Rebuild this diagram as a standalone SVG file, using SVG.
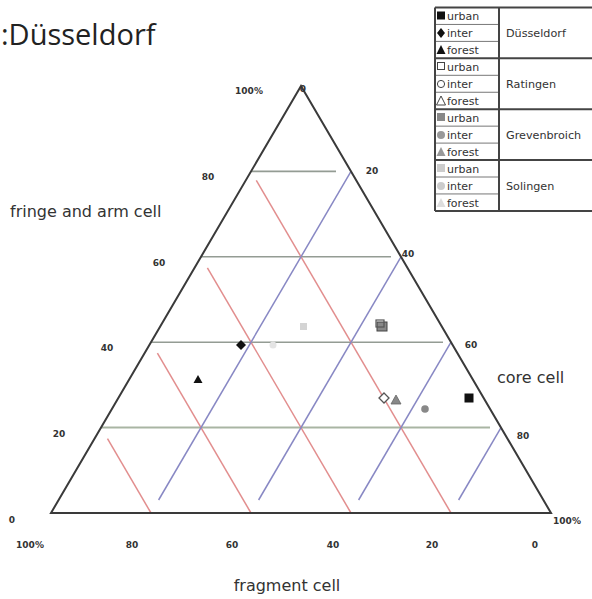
<svg xmlns="http://www.w3.org/2000/svg" width="592" height="599" viewBox="0 0 592 599">
<style>
.edge{fill:none;stroke:#3a3a3a;stroke-width:2}
.hl{stroke:#949c94;stroke-width:1.6}
.rl{stroke:#e28e8e;stroke-width:1.5}
.bl{stroke:#8888c4;stroke-width:1.5}
.tick{font-family:"DejaVu Sans",sans-serif;font-weight:bold;font-size:9px;fill:#333;text-anchor:middle}
.ax{font-family:"DejaVu Sans",sans-serif;font-size:16px;fill:#333}
.lg{font-family:"DejaVu Sans",sans-serif;font-size:11px;fill:#333}
.lgc{font-family:"DejaVu Sans",sans-serif;font-size:11.2px;fill:#333}
.thin{stroke:#777;stroke-width:1}
.thick{stroke:#444;stroke-width:2}
</style>
<rect width="592" height="599" fill="#fff"/>
<text x="1" y="45" font-family="'Open Sans',sans-serif" font-size="29" fill="#222">:Düsseldorf</text>

<g id="grid">
<line class="hl" x1="251" y1="171.4" x2="336" y2="171.4"/>
<line class="hl" x1="201" y1="256.8" x2="391" y2="256.8"/>
<line class="hl" x1="151" y1="342.2" x2="443" y2="342.2"/>
<line class="hl" x1="101" y1="427.6" x2="490" y2="427.6" style="stroke:#a9b5a3;stroke-width:2"/>
<line class="rl" x1="107.5" y1="438.7" x2="151" y2="513"/>
<line class="rl" x1="157.4" y1="353.2" x2="251" y2="513"/>
<line class="rl" x1="207.4" y1="267.8" x2="351" y2="513"/>
<line class="rl" x1="256.3" y1="180.4" x2="451" y2="513"/>
<line class="bl" x1="158.6" y1="500" x2="351" y2="171.4"/>
<line class="bl" x1="258.6" y1="500" x2="401" y2="256.8"/>
<line class="bl" x1="358.6" y1="500" x2="451" y2="342.2"/>
<line class="bl" x1="458.6" y1="500" x2="501" y2="427.6"/>
</g>

<g id="triangle">
<polygon class="edge" points="51,513 551,513 301,86"/>
</g>

<g id="ticks">
<text class="tick" x="249" y="94">100%</text>
<text class="tick" x="208" y="180">80</text>
<text class="tick" x="159" y="266">60</text>
<text class="tick" x="107" y="351">40</text>
<text class="tick" x="59" y="437">20</text>
<text class="tick" x="12" y="523">0</text>
<text class="tick" x="303" y="92">0</text>
<text class="tick" x="372" y="174">20</text>
<text class="tick" x="408" y="257">40</text>
<text class="tick" x="471" y="348">60</text>
<text class="tick" x="523" y="439">80</text>
<text class="tick" x="567" y="524">100%</text>
<text class="tick" x="30" y="548">100%</text>
<text class="tick" x="132" y="548">80</text>
<text class="tick" x="232" y="548">60</text>
<text class="tick" x="333" y="548">40</text>
<text class="tick" x="432" y="548">20</text>
<text class="tick" x="535" y="548">0</text>
</g>

<g id="axis-titles">
<text class="ax" x="10" y="217">fringe and arm cell</text>
<text class="ax" x="497" y="383">core cell</text>
<text class="ax" x="287" y="591" text-anchor="middle">fragment cell</text>
</g>

<g id="points">
<rect x="300" y="323" width="7" height="7" fill="#d4d4d4"/>
<circle cx="273" cy="345" r="3.5" fill="#e4e4e4"/>
<rect x="377" y="322" width="10" height="9" fill="#888" stroke="#444" stroke-width="1"/>
<rect x="376" y="320" width="8" height="7" fill="none" stroke="#555" stroke-width="1.2"/>
<path d="M384,393 L389,398 L384,403 L379,398 Z" fill="#fff" stroke="#555" stroke-width="1.3"/>
<path d="M396,395 L401,404 L391,404 Z" fill="#888" stroke="#666" stroke-width="0.8"/>
<circle cx="425" cy="409" r="3.8" fill="#888"/>
<rect x="464.5" y="393.5" width="9" height="9" fill="#111"/>
<path d="M241,340 L246,345 L241,350 L236,345 Z" fill="#111"/>
<path d="M198,375 L202.5,383 L193.5,383 Z" fill="#111"/>
</g>

<g id="legend">
<rect x="435" y="7.5" width="170" height="203.4" fill="#fff" stroke="none"/>
<line class="thin" x1="435" y1="24.45" x2="499" y2="24.45"/>
<line class="thin" x1="435" y1="41.4" x2="499" y2="41.4"/>
<line class="thin" x1="435" y1="75.3" x2="499" y2="75.3"/>
<line class="thin" x1="435" y1="92.25" x2="499" y2="92.25"/>
<line class="thin" x1="435" y1="126.15" x2="499" y2="126.15"/>
<line class="thin" x1="435" y1="143.1" x2="499" y2="143.1"/>
<line class="thin" x1="435" y1="177" x2="499" y2="177"/>
<line class="thin" x1="435" y1="193.95" x2="499" y2="193.95"/>
<line class="thick" x1="435" y1="7.5" x2="592" y2="7.5"/>
<line class="thick" x1="435" y1="58.35" x2="592" y2="58.35"/>
<line class="thick" x1="435" y1="109.2" x2="592" y2="109.2"/>
<line class="thick" x1="435" y1="160.05" x2="592" y2="160.05"/>
<line class="thick" x1="435" y1="210.9" x2="592" y2="210.9"/>
<line class="thick" x1="435" y1="7.5" x2="435" y2="210.9"/>
<line class="thick" x1="499" y1="7.5" x2="499" y2="210.9"/>

<rect x="437" y="11.5" width="8" height="8" fill="#111"/>
<path d="M441,28 L445,33 L441,38 L437,33 Z" fill="#111"/>
<path d="M441,45 L445.5,54 L436.5,54 Z" fill="#111"/>
<rect x="437.5" y="62.5" width="7" height="7" fill="#fff" stroke="#444"/>
<circle cx="441" cy="84" r="3.6" fill="#fff" stroke="#444"/>
<path d="M441,96 L445.5,105 L436.5,105 Z" fill="#fff" stroke="#444"/>
<rect x="437" y="113" width="8" height="8" fill="#888"/>
<circle cx="441" cy="135" r="4" fill="#999"/>
<path d="M441,147 L445.5,156 L436.5,156 Z" fill="#999"/>
<rect x="437" y="164" width="8" height="8" fill="#ccc"/>
<circle cx="441" cy="186" r="4" fill="#ccc"/>
<path d="M441,198 L445.5,207 L436.5,207 Z" fill="#ddd"/>

<text class="lg" x="447" y="20">urban</text>
<text class="lg" x="447" y="37">inter</text>
<text class="lg" x="447" y="54">forest</text>
<text class="lg" x="447" y="71">urban</text>
<text class="lg" x="447" y="88">inter</text>
<text class="lg" x="447" y="105">forest</text>
<text class="lg" x="447" y="122">urban</text>
<text class="lg" x="447" y="139">inter</text>
<text class="lg" x="447" y="156">forest</text>
<text class="lg" x="447" y="173">urban</text>
<text class="lg" x="447" y="190">inter</text>
<text class="lg" x="447" y="207">forest</text>

<text class="lgc" x="506" y="37">Düsseldorf</text>
<text class="lgc" x="506" y="88">Ratingen</text>
<text class="lgc" x="506" y="139">Grevenbroich</text>
<text class="lgc" x="506" y="190">Solingen</text>
</g>
</svg>
